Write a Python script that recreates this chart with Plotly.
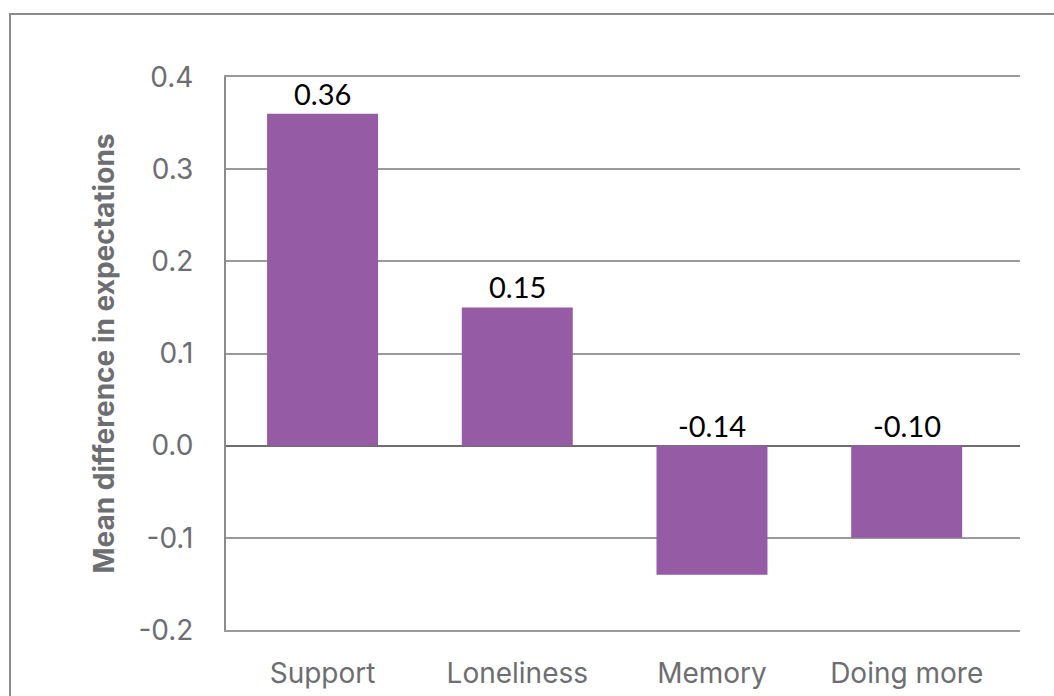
import plotly.graph_objects as go

categories = ["Support", "Loneliness", "Memory", "Doing more"]
values = [0.36, 0.15, -0.14, -0.10]
value_labels = ["0.36", "0.15", "-0.14", "-0.10"]
tick_vals = [-0.2, -0.1, 0.0, 0.1, 0.2, 0.3, 0.4]
tick_text = ["-0.2", "-0.1", "0.0", "0.1", "0.2", "0.3", "0.4"]

BAR = "#965BA5"
GRAY = "#6D6E71"

fig = go.Figure()
fig.add_trace(go.Bar(
    x=list(range(len(categories))), y=values,
    marker=dict(color=BAR, line=dict(width=0)),
    width=0.57, hoverinfo="skip",
))

for i, (v, t) in enumerate(zip(values, value_labels)):
    fig.add_annotation(
        x=i, y=max(v, 0), text=t, showarrow=False,
        yanchor="bottom", xanchor="center", yshift=1,
        font=dict(family="Lato", size=29, color="#000000"),
    )

fig.add_shape(type="rect", xref="paper", yref="paper",
              x0=(10 - 226) / 794, x1=1.2, y0=-0.3, y1=(630 - 14) / 553,
              line=dict(color="#8A8B8E", width=2), layer="below")

fig.update_layout(
    width=1054, height=696,
    margin=dict(l=226, r=34, t=77, b=66),
    paper_bgcolor="white", plot_bgcolor="white",
    showlegend=False,
    font=dict(family="Inter", color=GRAY),
    xaxis=dict(
        tickmode="array", tickvals=list(range(len(categories))), ticktext=categories,
        range=[-0.496, 3.582], showgrid=False, zeroline=False,
        showline=True, mirror=True, linecolor="#9A9A9C", linewidth=1.5,
        ticks="", tickfont=dict(family="Inter", size=28, color=GRAY),
        ticklabelstandoff=18, automargin=False,
    ),
    yaxis=dict(
        range=[-0.2, 0.4], tickmode="array", tickvals=tick_vals, ticktext=tick_text,
        showgrid=True, gridcolor="#9A9A9C", gridwidth=1.5,
        zeroline=True, zerolinecolor="#6E6E70", zerolinewidth=2,
        showline=True, linecolor="#8A8B8E", linewidth=2,
        ticks="", tickfont=dict(family="Inter", size=28, color=GRAY),
        ticklabelstandoff=25, automargin=False,
        title=dict(text="<b>Mean difference in expectations</b>",
                   font=dict(family="Inter", size=28, color=GRAY), standoff=16),
    ),
)

fig.write_html("out.html")
